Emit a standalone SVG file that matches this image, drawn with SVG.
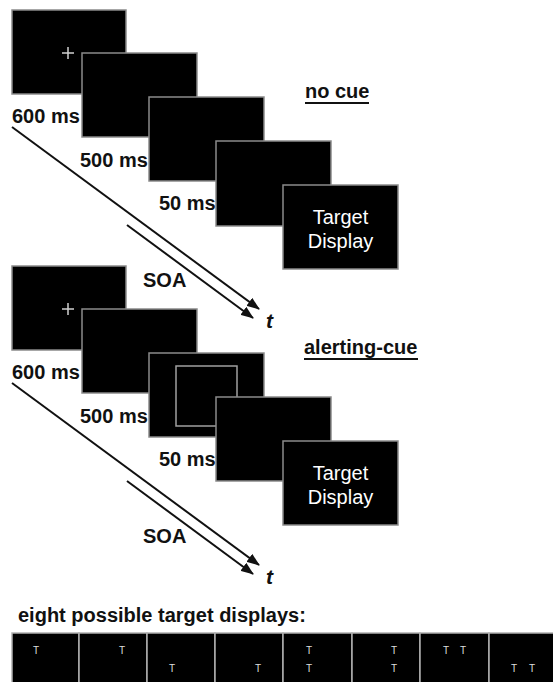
<svg xmlns="http://www.w3.org/2000/svg" width="553" height="682" viewBox="0 0 553 682">
<style>
.scr{fill:#000;stroke:#8a8a8a;stroke-width:1.5}
.cross{stroke:#d0d0d0;stroke-width:1.5;fill:none}
.lbl{font-family:"Liberation Sans",Arial,sans-serif;font-weight:bold;font-size:20px;fill:#111}
.tgt{font-family:"Liberation Sans",Arial,sans-serif;font-size:20px;fill:#fff;text-anchor:middle}
.ttl{font-family:"Liberation Sans",Arial,sans-serif;font-weight:bold;font-size:20px;fill:#111}
.tt{font-family:"Liberation Sans",Arial,sans-serif;font-weight:bold;font-style:italic;font-size:21px;fill:#111}
.ln{stroke:#111;stroke-width:2;fill:none;marker-end:url(#ah)}
.ul{stroke:#111;stroke-width:2}
.pan{fill:#000;stroke:#b0b0b0;stroke-width:1.5}
.T{font-family:"Liberation Sans",Arial,sans-serif;font-size:10px;fill:#ddd;text-anchor:middle}
.inner{fill:none;stroke:#a0a0a0;stroke-width:1.5}
</style>
<defs>
<marker id="ah" markerWidth="14" markerHeight="10" refX="12" refY="5" orient="auto" markerUnits="userSpaceOnUse">
<path d="M0,0 L13,5 L0,10 Z" fill="#111"/>
</marker>
</defs>

<!-- Panel 1: no cue -->
<g id="nocue-title"><text class="ttl" x="305" y="98">no cue</text><line class="ul" x1="305" y1="103" x2="369" y2="103"/></g>
<g id="nc-fix"><rect class="scr" x="12" y="10" width="114" height="84"/><path class="cross" d="M62,53 H74 M68,47 V59"/></g>
<g id="nc-blank1"><rect class="scr" x="82" y="53" width="115" height="84"/></g>
<g id="nc-blank2"><rect class="scr" x="149" y="97" width="115" height="84"/></g>
<g id="nc-blank3"><rect class="scr" x="216" y="141" width="115" height="85"/></g>
<g id="nc-target"><rect class="scr" x="283" y="185" width="115" height="84"/><text class="tgt" x="340.5" y="224">Target</text><text class="tgt" x="340.5" y="248">Display</text></g>
<g id="nc-labels">
<text class="lbl" x="12" y="123">600 ms</text>
<text class="lbl" x="80" y="167">500 ms</text>
<text class="lbl" x="159" y="210">50 ms</text>
<text class="lbl" x="143" y="287">SOA</text>
<text class="tt" x="266" y="328">t</text>
</g>

<!-- Panel 2: alerting cue -->
<g id="ac-title"><text class="ttl" x="304" y="354">alerting-cue</text><line class="ul" x1="304" y1="359" x2="418" y2="359"/></g>
<g id="ac-fix"><rect class="scr" x="12" y="266" width="114" height="84"/><path class="cross" d="M62,309 H74 M68,303 V315"/></g>
<g id="ac-blank1"><rect class="scr" x="82" y="309" width="115" height="84"/></g>
<g id="ac-cue"><rect class="scr" x="149" y="353" width="115" height="84"/><rect class="inner" x="176" y="366" width="61" height="60"/></g>
<g id="ac-blank2"><rect class="scr" x="216" y="397" width="115" height="84"/></g>
<g id="ac-target"><rect class="scr" x="283" y="441" width="115" height="84"/><text class="tgt" x="340.5" y="480">Target</text><text class="tgt" x="340.5" y="504">Display</text></g>
<g id="ac-labels">
<text class="lbl" x="12" y="379">600 ms</text>
<text class="lbl" x="80" y="423">500 ms</text>
<text class="lbl" x="159" y="466">50 ms</text>
<text class="lbl" x="143" y="543">SOA</text>
<text class="tt" x="266" y="584">t</text>
</g>

<g id="connectors">
<line class="ln" x1="12" y1="127" x2="259" y2="309"/>
<line class="ln" x1="127" y1="225" x2="253" y2="318"/>
<line class="ln" x1="12" y1="383" x2="259" y2="565"/>
<line class="ln" x1="127" y1="481" x2="253" y2="574"/>
</g>

<!-- Target displays -->
<g id="displays-title"><text class="ttl" x="18" y="622">eight possible target displays:</text></g>
<g id="displays">
<rect class="pan" x="12" y="633" width="67" height="52"/>
<rect class="pan" x="79" y="633" width="68" height="52"/>
<rect class="pan" x="147" y="633" width="68" height="52"/>
<rect class="pan" x="215" y="633" width="68" height="52"/>
<rect class="pan" x="283" y="633" width="69" height="52"/>
<rect class="pan" x="352" y="633" width="68" height="52"/>
<rect class="pan" x="420" y="633" width="69" height="52"/>
<rect class="pan" x="489" y="633" width="68" height="52"/>
<text class="T" x="36" y="654">T</text>
<text class="T" x="122" y="654">T</text>
<text class="T" x="172" y="672">T</text>
<text class="T" x="258" y="672">T</text>
<text class="T" x="309" y="654">T</text>
<text class="T" x="309" y="672">T</text>
<text class="T" x="394" y="654">T</text>
<text class="T" x="394" y="672">T</text>
<text class="T" x="446" y="654">T</text>
<text class="T" x="463" y="654">T</text>
<text class="T" x="514" y="672">T</text>
<text class="T" x="532" y="672">T</text>
</g>
</svg>
